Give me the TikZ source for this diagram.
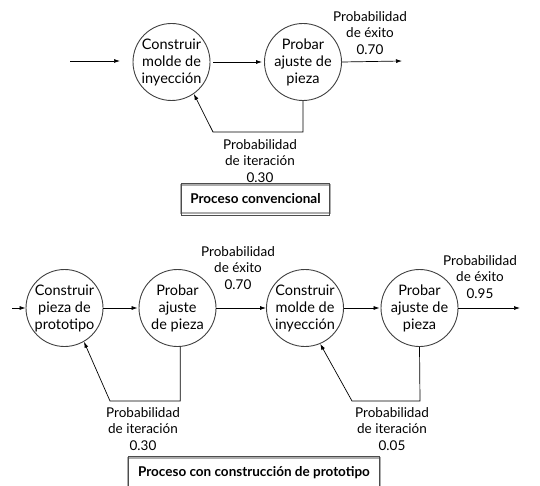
\documentclass[tikz,border=0pt]{standalone}
\usepackage{fontspec}
\setmainfont{Lato}
\usetikzlibrary{arrows.meta}
\begin{document}
\begin{tikzpicture}[x=1pt, y=-1pt, >={Latex[length=6pt,width=4pt]}, line width=0.7pt,
    etapa/.style={circle, draw=black!75, line width=0.9pt, minimum size=77pt, inner sep=0pt, align=center, font=\fontsize{14.5}{17}\selectfont},
    rotulo/.style={align=center, font=\fontsize{13.5}{16.5}\selectfont},
    marco/.style={draw=gray!65, line width=1.6pt, inner xsep=8pt, minimum height=28pt, font=\fontsize{13.5}{15}\selectfont\bfseries}]
    \useasboundingbox (0,0) rectangle (540,486);

    % 1. Proceso convencional
    \node[etapa] (molde) at (171.5,62) {Construir\\molde de\\inyección};
    \node[etapa] (prueba) at (303,62) {Probar\\ajuste de\\pieza};
    \coordinate (entrada) at (70,61);
    \coordinate (llegada) at (120,61);
    \coordinate (salida) at (402,61);
    \draw[->] (entrada) -- (llegada);
    \draw[->] ([xshift=3pt]molde.east) -- ([xshift=-2pt]prueba.west);
    \draw[->] (prueba.east) -- (salida);
    % retorno (iteracion)
    \coordinate (esq1) at (prueba.south |- 0,132);
    \coordinate (esq2) at (213,132);
    \draw[->] (prueba.south) -- (esq1) -- (esq2) -- (molde.-55);
    \node[rotulo] (exito) at (370,33) {Probabilidad\\de éxito\\0.70};
    \node[rotulo] (iter) at (260,161) {Probabilidad\\de iteración\\0.30};
    \node[marco, minimum width=149pt] (conv) at (255.5,199) {Proceso convencional};
    \draw[black!70, line width=0.5pt] ([shift={(1.3pt,1.3pt)}]conv.north west) rectangle ([shift={(-1.3pt,-1.3pt)}]conv.south east);

    % 2. Proceso con prototipo
    \node[etapa] (proto) at (64.5,308) {Construir\\pieza de\\prototipo};
    \node[etapa] (pruebaA) at (177.5,308) {Probar\\ajuste\\de pieza};
    \node[etapa] (moldeB) at (305,308) {Construir\\molde de\\inyección};
    \node[etapa] (pruebaB) at (419.5,308) {Probar\\ajuste de\\pieza};
    \coordinate (entrada2) at (12,308);
    \coordinate (salida2) at (520,308);
    \draw[->] (entrada2) -- (proto.west);
    \draw[->] (proto.east) -- ([xshift=-1pt]pruebaA.west);
    \draw[->] (pruebaA.east) -- (moldeB.west);
    \draw[->] (moldeB.east) -- ([xshift=-1pt]pruebaB.west);
    \draw[->] (pruebaB.east) -- (salida2);
    % retornos
    \coordinate (esq3) at (pruebaA.-86 |- 0,401);
    \coordinate (esq4) at (110,401);
    \draw[->] (pruebaA.-86) -- (esq3) -- (esq4) -- (proto.-60);
    \coordinate (esq5) at (420,401);
    \coordinate (esq6) at (352,401);
    \draw[->] (pruebaB.south) -- (esq5) -- (esq6) -- (moldeB.-67);
    \node[rotulo] (exito2) at (238,268) {Probabilidad\\de éxito\\0.70};
    \node[rotulo] (exito3) at (480,277) {Probabilidad\\de éxito\\0.95};
    \node[rotulo] (iter2) at (143,429) {Probabilidad\\de iteración\\0.30};
    \node[rotulo] (iter3) at (392,429) {Probabilidad\\de iteración\\0.05};
    \node[marco, minimum width=252pt, minimum height=30pt] (protobox) at (254,473) {Proceso con construcción de prototipo};
    \draw[black!70, line width=0.5pt] ([shift={(1.3pt,1.3pt)}]protobox.north west) rectangle ([shift={(-1.3pt,-1.3pt)}]protobox.south east);

\end{tikzpicture}
\end{document}
